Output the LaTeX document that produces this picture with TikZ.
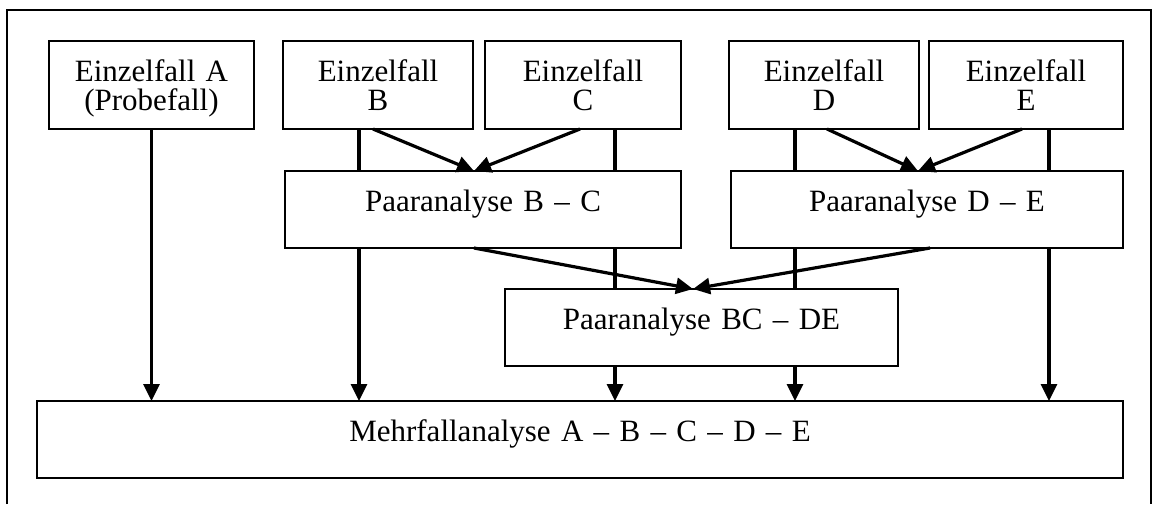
\documentclass[tikz,border=0pt]{standalone}
\usepackage{fontspec}
\setmainfont{Liberation Serif}
\usetikzlibrary{arrows.meta}
\begin{document}
\begin{tikzpicture}[x=1pt,y=-1pt,
  box/.style={draw, line width=2pt, fill=white, inner sep=0pt, outer sep=0pt,
    align=center, font=\fontsize{31}{29.5}\selectfont, text height=40pt, anchor=north west},
  einzel/.style={box, text depth=48pt},
  paar/.style={box, text depth=37pt},
  conn/.style={line width=3.2pt},
  arr/.style={conn, -{Triangle[length=17pt,width=16pt]}},
  frame/.style={line width=2.4pt}]
\useasboundingbox (0,0) rectangle (1153,504);
\draw[frame] (7,504) -- (7,10) -- (1151,10) -- (1151,504);

% boxes
\node[einzel, text width=205pt] (A) at (49,41) {Einzelfall A\\(Probefall)};
\node[einzel, text width=190pt] (B) at (283,41) {Einzelfall\\B};
\node[einzel, text width=196pt] (C) at (485,41) {Einzelfall\\C};
\node[einzel, text width=190pt] (D) at (729,41) {Einzelfall\\D};
\node[einzel, text width=194pt] (E) at (929,41) {Einzelfall\\E};
\node[paar, text width=396pt] (BC) at (285,171) {Paaranalyse B -- C};
\node[paar, text width=392pt] (DE) at (731,171) {Paaranalyse D -- E};
\node[paar, text width=393pt] (BCDE) at (505,289) {Paaranalyse BC -- DE};
\node[paar, text width=1086pt] (M) at (37,401) {Mehrfallanalyse A -- B -- C -- D -- E};

% x positions of connectors
\coordinate (xB) at (359,0);
\coordinate (xC) at (615,0);
\coordinate (xD) at (795,0);
\coordinate (xE) at (1049,0);
\coordinate (bd) at (373,0);
\coordinate (cd) at (580,0);
\coordinate (dd) at (827,0);
\coordinate (ed) at (1022,0);
\coordinate (tBC) at (474,0);
\coordinate (tDE) at (918,0);
\coordinate (sDE) at (930,0);
\coordinate (tX) at (693,0);

% A
\draw[arr] (A.south) -- (A.south |- M.north);
% B
\draw[conn] (B.south -| xB) -- (BC.north -| xB);
\draw[arr] (BC.south -| xB) -- (M.north -| xB);
\draw[arr] (B.south -| bd) -- (BC.north -| tBC);
% C
\draw[arr] (C.south -| cd) -- (BC.north -| tBC);
\draw[conn] (C.south -| xC) -- (BC.north -| xC);
\draw[conn] (BC.south -| xC) -- (BCDE.north -| xC);
\draw[arr] (BCDE.south -| xC) -- (M.north -| xC);
% D
\draw[arr] (D.south -| dd) -- (DE.north -| tDE);
\draw[conn] (D.south -| xD) -- (DE.north -| xD);
\draw[conn] (DE.south -| xD) -- (BCDE.north -| xD);
\draw[arr] (BCDE.south -| xD) -- (M.north -| xD);
% E
\draw[arr] (E.south -| ed) -- (DE.north -| tDE);
\draw[conn] (E.south -| xE) -- (DE.north -| xE);
\draw[arr] (DE.south -| xE) -- (M.north -| xE);
% pairs to BC-DE
\draw[arr] (BC.south -| tBC) -- (BCDE.north -| tX);
\draw[arr] (DE.south -| sDE) -- (BCDE.north -| tX);
\end{tikzpicture}
\end{document}
